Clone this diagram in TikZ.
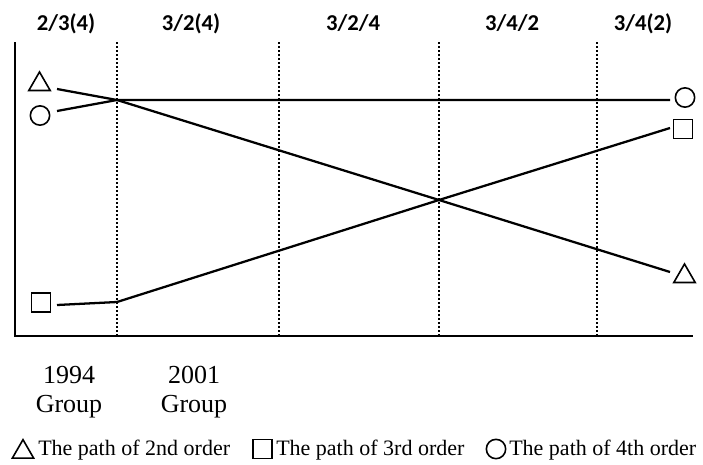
\documentclass[tikz,border=0pt]{standalone}
\usepackage{fontspec}
\setmainfont{Liberation Serif}
\newfontfamily\labfont{Carlito}
\usetikzlibrary{shapes.geometric}
\begin{document}
\begin{tikzpicture}[x=0.75pt,y=-0.75pt,
  axis/.style={line width=1.5pt},
  guide/.style={line width=1.6pt, dash pattern=on 1.5pt off 1.5pt},
  pathline/.style={line width=1.7pt},
  mtri/.style={draw, line width=1.2pt, regular polygon, regular polygon sides=3, minimum size=18.5pt, inner sep=0pt},
  mcirc/.style={draw, line width=1.2pt, circle, minimum size=14.5pt, inner sep=0pt},
  msq/.style={draw, line width=1.2pt, rectangle, minimum size=14pt, inner sep=0pt},
  toplab/.style={font=\labfont\bfseries\fontsize{17}{19}\selectfont, anchor=base, inner sep=0pt},
  grp/.style={font=\fontsize{19.5}{22}\selectfont, anchor=base, inner sep=0pt},
  leg/.style={font=\fontsize{16.5}{19}\selectfont, anchor=base west, inner sep=0pt}]
\useasboundingbox (0,0) rectangle (703,464);
\fill[white] (0,0) rectangle (703,464);

% axes
\coordinate (ytop) at (15,42);
\coordinate (O) at (15,336);
\coordinate (xend) at (693,336);
\draw[axis] (ytop) -- (O) -- (xend);

% dotted guides
\foreach \n/\x in {1/117,2/279,3/439,4/597}{
  \coordinate (gT\n) at (\x,42);
  \coordinate (gB\n) at (\x,335);
  \draw[guide] (gT\n) -- (gB\n);
}

% top labels
\node[toplab] (l1) at (66,30) {2/3(4)};
\node[toplab] (l2) at (191,30) {3/2(4)};
\node[toplab] (l3) at (353,30) {3/2/4};
\node[toplab] (l4) at (512,30) {3/4/2};
\node[toplab] (l5) at (643,30) {3/4(2)};

% path points
\coordinate (t0) at (57,89);
\coordinate (J) at (117,100);
\coordinate (X) at (439,200);
\coordinate (t5) at (670,272);
\coordinate (c0) at (57,111);
\coordinate (c5) at (670,100);
\coordinate (s0) at (57,305);
\coordinate (S1) at (117,302);
\coordinate (s5) at (670,128);

\draw[pathline] (t0) -- (J) -- (X) -- (t5);
\draw[pathline] (c0) -- (J) -- (c5);
\draw[pathline] (s0) -- (S1) -- (X) -- (s5);

% markers
\node[mtri] (triL) at (39.5,84.3) {};
\node[mcirc] (cirL) at (40,115.5) {};
\node[msq] (sqL) at (41,302.5) {};
\node[mcirc] (cirR) at (685,97.5) {};
\node[msq] (sqR) at (683,129) {};
\node[mtri] (triR) at (684.5,276.3) {};

% group labels
\node[grp] (g1a) at (69,383) {1994};
\node[grp] (g1b) at (69,412) {Group};
\node[grp] (g2a) at (194,383) {2001};
\node[grp] (g2b) at (194,412) {Group};

% legend
\node[mtri] (legT) at (23,452) {};
\node[leg] (legTt) at (38,455) {The path of 2nd order};
\node[msq] (legS) at (262.5,449) {};
\node[leg] (legSt) at (276,455) {The path of 3rd order};
\node[mcirc] (legC) at (496,449) {};
\node[leg] (legCt) at (509,455) {The path of 4th order};
\end{tikzpicture}
\end{document}
